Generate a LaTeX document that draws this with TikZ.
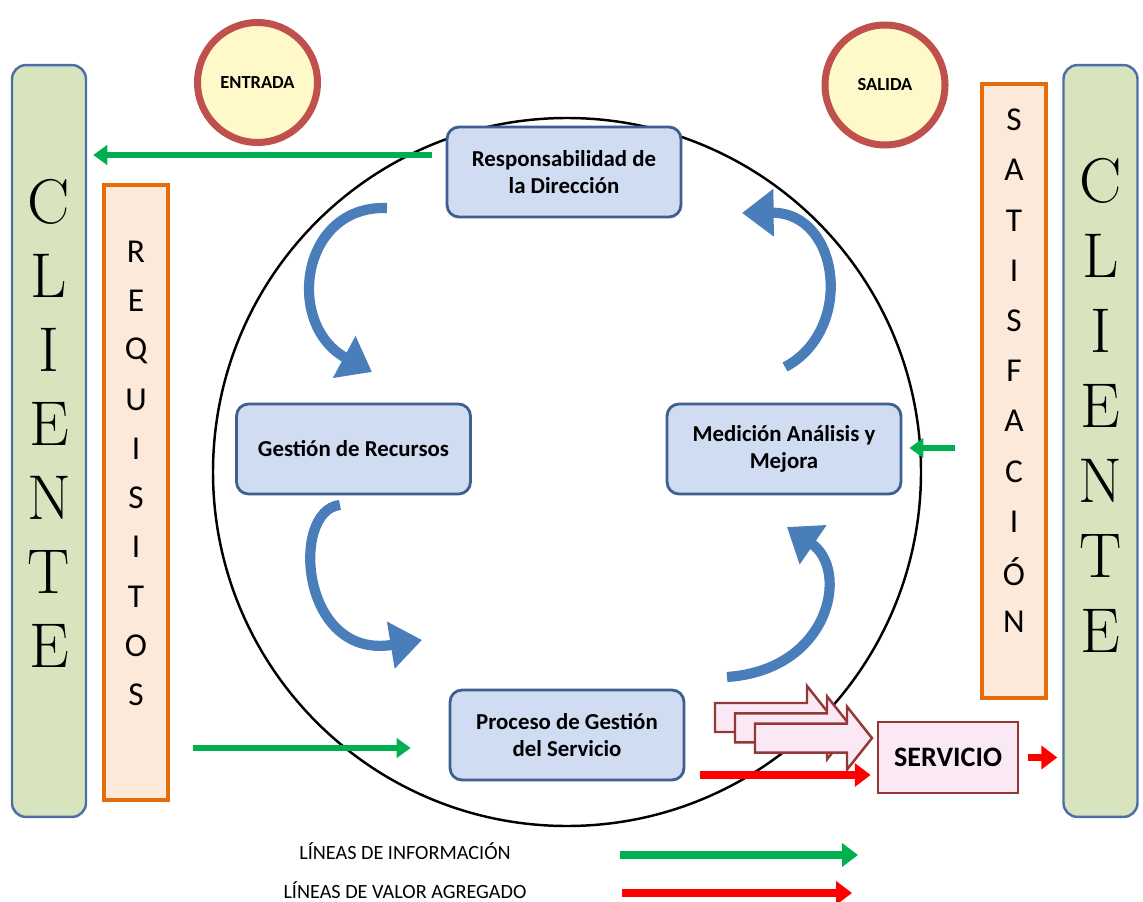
\documentclass[tikz,border=0pt]{standalone}
\usepackage{fontspec}
\newfontfamily\carlito{Carlito}
\usetikzlibrary{arrows.meta,calc}

\definecolor{verdecli}{HTML}{D7E4BD}
\definecolor{azulbor}{HTML}{4F6EA8}
\definecolor{naranja}{HTML}{E46C0A}
\definecolor{durazno}{HTML}{FDE9D9}
\definecolor{cajazul}{HTML}{D0DCF2}
\definecolor{cajborde}{HTML}{3F5F8F}
\definecolor{rojoc}{HTML}{C0504D}
\definecolor{amarillo}{HTML}{FFF8C8}
\definecolor{vinotinto}{HTML}{953735}
\definecolor{rosado}{HTML}{FBE8F5}
\definecolor{verde}{HTML}{00B050}
\definecolor{flechazul}{HTML}{4A7EBB}

\tikzset{
  cliente/.style={draw=azulbor, line width=1.4pt, fill=verdecli, rounded corners=0.28cm,
    minimum width=1.48cm, minimum height=15.04cm, inner sep=0pt},
  barra/.style={draw=naranja, line width=2pt, fill=durazno, minimum width=1.28cm, inner sep=0pt},
  letra/.style={font=\fontsize{36}{40}\selectfont, inner sep=0pt},
  letrita/.style={font=\carlito\fontsize{19}{22}\selectfont, inner sep=0pt},
  proceso/.style={draw=cajborde, line width=1.6pt, fill=cajazul, rounded corners=0.24cm,
    minimum width=4.68cm, minimum height=1.8cm, align=center,
    font=\carlito\bfseries\fontsize{13}{15}\selectfont},
  circulo/.style={circle, draw=rojoc, line width=4pt, fill=amarillo, minimum size=2.4cm,
    font=\carlito\bfseries\fontsize{10.5}{12}\selectfont},
  info/.style={draw=verde, line width=3.4pt, -{Triangle[length=8pt,width=11pt]}},
  valor/.style={draw=red, line width=4pt, -{Triangle[length=9pt,width=13pt]}},
  giro/.style={draw=flechazul, line width=5.8pt, -{Triangle[length=18pt,width=26pt]}},
  bloque/.style={draw=vinotinto, line width=1.4pt, fill=rosado, line join=miter},
  leyenda/.style={font=\carlito\fontsize{11.5}{13}\selectfont},
}

\begin{document}
\begin{tikzpicture}[x=0.02cm, y=-0.02cm]
  \useasboundingbox (0,0) rectangle (1143,902);

  % el circulo central
  \draw[line width=1.4pt] (567,472) circle (354);

  % clientes y barras
  \node[cliente] (cliL) at (49,441) {};
  \node[cliente] (cliR) at (1100.5,441) {};
  \node[barra, minimum height=12.3cm] (req) at (136,492.5) {};
  \node[barra, minimum height=12.28cm] (sat) at (1014,391) {};

  \foreach \l [count=\i from 0] in {C,L,I,E,N,T,E} {
    \node[letra] (cl\i) at (49,202+74*\i) {\l};
    \node[letra] (cr\i) at (1100.5,181+75*\i) {\l};
  }
  \foreach \l [count=\i from 0] in {R,E,Q,U,I,S,I,T,O,S}
    \node[letrita] (rq\i) at (136,252+49.2*\i) {\l};
  \foreach \l [count=\i from 0] in {S,A,T,I,S,F,A,C,I,Ó,N}
    \node[letrita] (st\i) at (1014,120+50.2*\i) {\l};

  \node[circulo] (entrada) at (257.5,82.5) {ENTRADA};
  \node[circulo] (salida) at (885,85) {SALIDA};

  % las cuatro cajas
  \node[proceso] (resp) at (564,172) {Responsabilidad de\\la Dirección};
  \node[proceso] (recur) at (353.5,449) {Gestión de Recursos};
  \node[proceso] (medic) at (784,449) {Medición Análisis y\\Mejora};
  \node[proceso] (proc) at (567,735) {Proceso de Gestión\\del Servicio};

  % flechas curvas
  \draw[giro] (387,208) .. controls (300,205) and (285,325) .. (372,372);
  \draw[giro] (340,505) .. controls (290,510) and (300,660) .. (422,640);
  \draw[giro] (727,677) .. controls (830,670) and (850,570) .. (787,527);
  \draw[giro] (785,367) .. controls (855,330) and (840,212) .. (742,213);

  % servicio
  \node[draw=vinotinto, line width=1.6pt, fill=rosado, minimum width=2.8cm, minimum height=1.42cm,
    font=\carlito\bfseries\fontsize{16}{18}\selectfont] (serv) at (948,757.5) {SERVICIO};
  \foreach \i in {0,1,2}
    \draw[bloque, shift={(20*\i,10.3*\i)}] (715,703) -- (807,703) -- (807,686) -- (832,717.5)
      -- (807,749) -- (807,732) -- (715,732) -- cycle;

  % lineas de informacion
  \coordinate (g1) at (432,155);
  \draw[info, shorten >=0.12cm] (g1) -- (g1 -| cliL.east);
  \coordinate (g2) at (193,748);
  \draw[info] (g2) -- ($(g2 -| proc.west)+(-38,0)$);
  \coordinate (g3) at (955,448);
  \draw[info, shorten >=0.14cm] (g3) -- (g3 -| medic.east);

  % lineas de valor agregado
  \coordinate (r1) at (700,775);
  \draw[valor, shorten >=0.12cm] (r1) -- (r1 -| serv.west);
  \draw[valor, shorten <=0.18cm, shorten >=0.1cm] (serv.east) -- (serv.east -| cliR.west);

  % leyenda
  \node[leyenda] (leyinfo) at (405,851) {LÍNEAS DE INFORMACIÓN};
  \node[leyenda] (leyvalor) at (405,890) {LÍNEAS DE VALOR AGREGADO};
  \coordinate (li) at (620,855);
  \coordinate (lv) at (622,893);
  \draw[info, line width=4.5pt, -{Triangle[length=9pt,width=13pt]}] (li) -- ++(238,0);
  \draw[valor] (lv) -- ++(230,0);
\end{tikzpicture}
\end{document}
